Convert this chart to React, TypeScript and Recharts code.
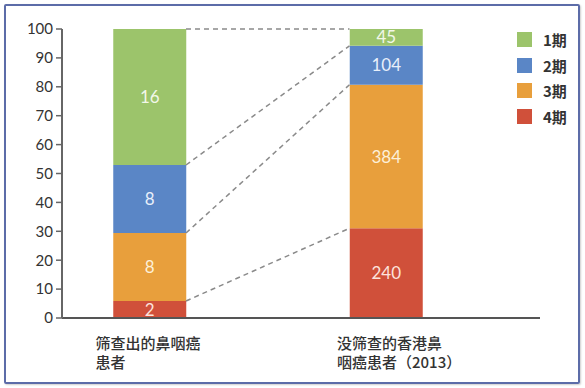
import React from 'react';
import { BarChart, Bar, XAxis, YAxis, Legend, LabelList, ReferenceLine } from 'recharts';

// counts per stage for each patient group
const categories = ['筛查出的鼻咽癌\n患者', '没筛查的香港鼻\n咽癌患者（2013）'];
const stage1 = [16, 45];
const stage2 = [8, 104];
const stage3 = [8, 384];
const stage4 = [2, 240];
const yTicks = [0, 10, 20, 30, 40, 50, 60, 70, 80, 90, 100];

const data = categories.map((name, i) => ({
  name,
  s1: stage1[i],
  s2: stage2[i],
  s3: stage3[i],
  s4: stage4[i],
}));

// stacked bottom to top: 4期, 3期, 2期, 1期
const series = [
  { key: 's4', name: '4期', color: '#d0503a', text: '#fde3dc' },
  { key: 's3', name: '3期', color: '#e89f3c', text: '#fdf0d8' },
  { key: 's2', name: '2期', color: '#5a86c6', text: '#e8effa' },
  { key: 's1', name: '1期', color: '#9cc46b', text: '#f2f7e8' },
];

const BAR = 73;

// cumulative shares at each stack boundary, for the dashed connectors
const boundaries = series.map((_, level) =>
  data.map((row: any) => {
    const total = series.reduce((s, sr) => s + row[sr.key], 0);
    const upto = series.slice(0, level + 1).reduce((s, sr) => s + row[sr.key], 0);
    return upto / total;
  })
);

const Connector = (p: any) => (
  <line
    x1={p.x1 + BAR / 2}
    y1={p.y1}
    x2={p.x2 - BAR / 2}
    y2={p.y2}
    stroke="#8a8a8a"
    strokeWidth={1.5}
    strokeDasharray="5 4"
  />
);

const labelOffsets = [-54, -49];

const CategoryTick = (props: any) => {
  const { x, y, payload, index } = props;
  const lines = String(payload.value).split('\n');
  return (
    <g>
      {lines.map((ln, i) => (
        <text
          key={i}
          x={x + labelOffsets[index]}
          y={y + 31 + i * 19}
          textAnchor="start"
          fill="#333"
          fontSize={15}
          fontWeight={500}
          fontFamily="'Noto Sans CJK SC', sans-serif"
        >
          {ln}
        </text>
      ))}
    </g>
  );
};

const LegendBox = () => (
  <div>
    {[...series].reverse().map((s) => (
      <div key={s.key} style={{ display: 'flex', alignItems: 'center', height: 25.5 }}>
        <span style={{ width: 15, height: 15, background: s.color, display: 'inline-block' }} />
        <span
          style={{
            marginLeft: 11,
            fontSize: 15,
            fontWeight: 700,
            color: '#333',
            fontFamily: "'Noto Sans CJK SC', sans-serif",
          }}
        >
          {s.name}
        </span>
      </div>
    ))}
  </div>
);

export default function App() {
  return (
    <div style={{ position: 'absolute', left: 0, top: 0, width: 585, height: 388, background: '#fff' }}>
      <div
        style={{
          position: 'absolute',
          left: 4,
          top: 4,
          width: 572,
          height: 376,
          border: '2px solid #5c6ca8',
          borderRadius: 2,
          boxShadow: '1px 1px 2px rgba(0,0,0,0.2)',
        }}
      />
      <div style={{ position: 'absolute', left: 0, top: 0 }}>
        <BarChart
          width={585}
          height={388}
          data={data}
          stackOffset="expand"
          margin={{ top: 29, right: 45, bottom: 20, left: 12 }}
        >
          <XAxis
            dataKey="name"
            interval={0}
            tickLine={false}
            tickSize={0}
            tickMargin={0}
            height={50}
            padding={{ left: -30.75, right: 35.75 }}
            axisLine={{ stroke: '#555', strokeWidth: 2 }}
            tick={<CategoryTick />}
          />
          <YAxis
            type="number"
            domain={[0, 1]}
            ticks={yTicks.map((t) => t / 100)}
            tickFormatter={(v) => String(Math.round(v * 100))}
            width={50}
            tickSize={6}
            tickMargin={3}
            interval={0}
            axisLine={{ stroke: '#666', strokeWidth: 2 }}
            tickLine={{ stroke: '#666', strokeWidth: 1.5 }}
            tick={{ fill: '#333', fontSize: 15, fontFamily: 'Lato, sans-serif' }}
          />
          {series.map((s) => (
            <Bar key={s.key} dataKey={s.key} name={s.name} stackId="a" fill={s.color} barSize={BAR} isAnimationActive={false}>
              <LabelList
                dataKey={s.key}
                position="center"
                fill={s.text}
                fontSize={17}
                fontFamily="Lato, sans-serif"
              />
            </Bar>
          ))}
          {boundaries.map((b, i) => (
            <ReferenceLine
              key={i}
              segment={[
                { x: categories[0], y: b[0] },
                { x: categories[1], y: b[1] },
              ]}
              ifOverflow="visible"
              shape={Connector}
            />
          ))}
          <Legend
            layout="vertical"
            align="center"
            verticalAlign="middle"
            wrapperStyle={{ left: 517, top: 27, width: 60 }}
            content={<LegendBox />}
          />
        </BarChart>
      </div>
    </div>
  );
}
